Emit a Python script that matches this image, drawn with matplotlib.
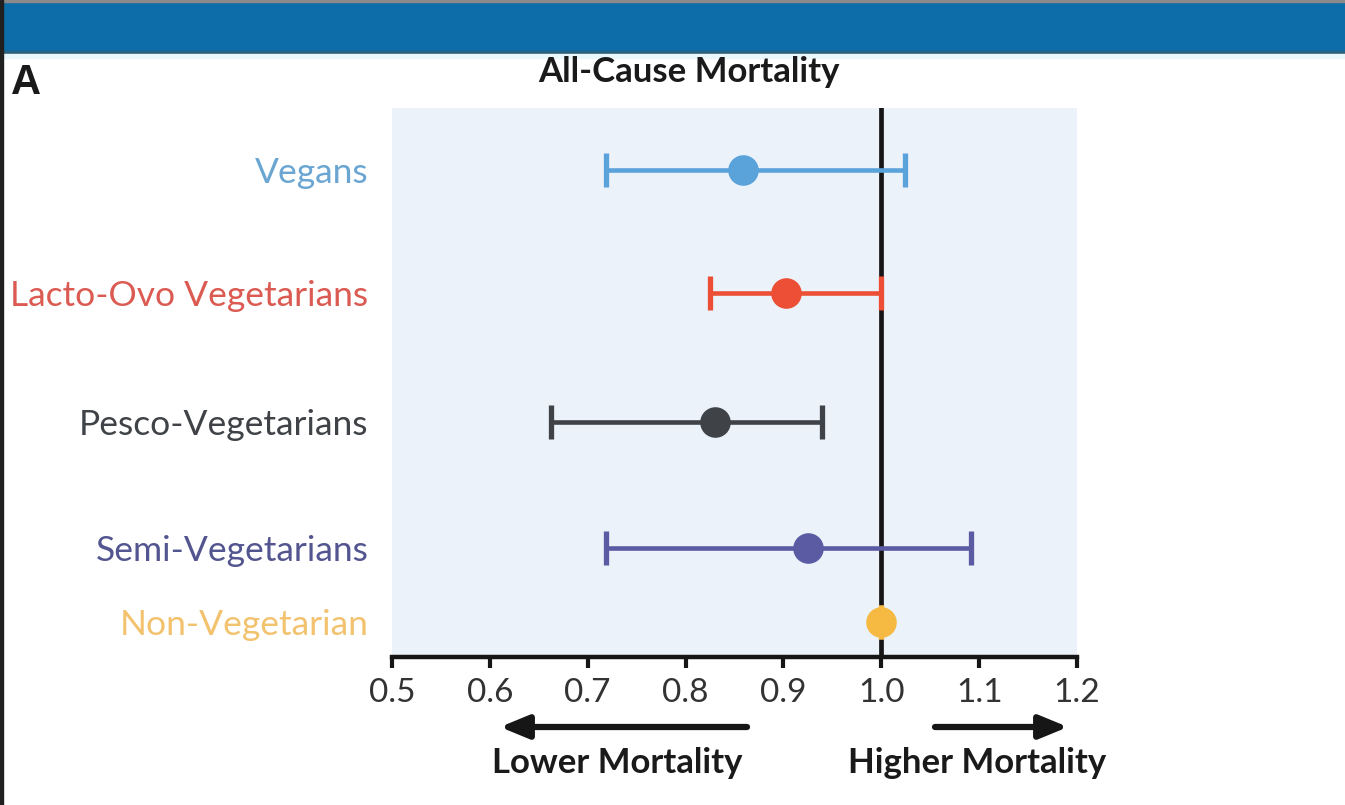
import matplotlib
matplotlib.use("Agg")
import matplotlib.pyplot as plt
from matplotlib.patches import Rectangle

# ---- data ----
groups = ["Vegans", "Lacto-Ovo Vegetarians", "Pesco-Vegetarians",
          "Semi-Vegetarians", "Non-Vegetarian"]
hr = [0.859, 0.903, 0.830, 0.925, 1.00]
ci_low = [0.719, 0.825, 0.662, 0.719, 1.00]
ci_high = [1.024, 1.000, 0.939, 1.092, 1.00]
xticks = [0.5, 0.6, 0.7, 0.8, 0.9, 1.0, 1.1, 1.2]
xtick_labels = ["0.5", "0.6", "0.7", "0.8", "0.9", "1.0", "1.1", "1.2"]

# ---- style ----
point_colors = ["#5AA2DA", "#EC4F35", "#3F4246", "#5A5BA3", "#F6B942"]
label_colors = ["#6BA6D3", "#DB5A52", "#3F4246", "#52558F", "#F2C26E"]
row_y = [4.0, 3.02, 2.0, 1.0, 0.41]

W, H = 1345, 805
fig = plt.figure(figsize=(W / 100, H / 100), dpi=100)
fig.patch.set_facecolor("white")

# header bar & border
fig.patches.append(Rectangle((0, 1 - 51 / H), 1, 51 / H, transform=fig.transFigure,
                             color="#0C6DA8", zorder=0))
fig.patches.append(Rectangle((0, 1 - 54 / H), 1, 3 / H, transform=fig.transFigure,
                             color="#2A627F", zorder=0))
fig.patches.append(Rectangle((0, 1 - 58 / H), 1, 4 / H, transform=fig.transFigure,
                             color="#EAF8FC", zorder=0))
fig.patches.append(Rectangle((0, 1 - 2 / H), 1, 2 / H, transform=fig.transFigure,
                             color="#8A8A8A", zorder=1))
fig.patches.append(Rectangle((0, 0), 3 / W, 1, transform=fig.transFigure,
                             color="#202020", zorder=1))

ax = fig.add_axes([392 / W, 1 - 657 / H, (1077 - 392) / W, (657 - 108) / H])
ax.set_facecolor("#EBF2FA")
ax.set_xlim(0.5, 1.2)
ax.set_ylim(0.135, 4.49)

ax.axvline(1.0, color="#161616", lw=3.4, zorder=2)

for i, g in enumerate(groups):
    xerr = [[hr[i] - ci_low[i]], [ci_high[i] - hr[i]]]
    ax.errorbar(hr[i], row_y[i], xerr=xerr, fmt="o", color=point_colors[i],
                ecolor=point_colors[i], elinewidth=3.3, capsize=12.5, capthick=3.8,
                markersize=21, markeredgecolor=point_colors[i], zorder=3)

ax.set_yticks(row_y)
ax.set_yticklabels(groups, fontsize=25.5, family="Lato")
for t, c in zip(ax.get_yticklabels(), label_colors):
    t.set_color(c)
ax.tick_params(axis="y", length=0, pad=17)

ax.set_xticks(xticks)
ax.set_xticklabels(xtick_labels, fontsize=24, family="Lato", color="#333333")
ax.tick_params(axis="x", direction="out", length=8, width=3.0, color="#161616", pad=7)

for s in ["left", "top", "right"]:
    ax.spines[s].set_visible(False)
ax.spines["bottom"].set_linewidth(3.2)
ax.spines["bottom"].set_color("#161616")

# title and panel letter
fig.text(689 / W, 1 - 72 / H, "All-Cause Mortality", ha="center", va="center",
         fontsize=25, fontweight="bold", family="Lato", color="#1A1A1A")
fig.text(11 / W, 1 - 83 / H, "A", ha="left", va="center", fontsize=30,
         fontweight="bold", family="Liberation Sans", color="#1A1A1A")

# direction arrows
arrow_kw = dict(arrowstyle="-|>,head_length=1.7,head_width=0.7", lw=4.5, color="#161616",
                shrinkA=0, shrinkB=0)
ax.annotate("", xy=(500 / W, 1 - 727 / H), xytext=(747 / W, 1 - 727 / H),
            xycoords="figure fraction", textcoords="figure fraction",
            arrowprops=arrow_kw, annotation_clip=False)
ax.annotate("", xy=(1068 / W, 1 - 727 / H), xytext=(935 / W, 1 - 727 / H),
            xycoords="figure fraction", textcoords="figure fraction",
            arrowprops=arrow_kw, annotation_clip=False)
fig.text(617 / W, 1 - 763 / H, "Lower Mortality", ha="center", va="center",
         fontsize=25, fontweight="bold", family="Lato", color="#1A1A1A")
fig.text(977 / W, 1 - 763 / H, "Higher Mortality", ha="center", va="center",
         fontsize=25, fontweight="bold", family="Lato", color="#1A1A1A")

fig.savefig("out.png", dpi=100, facecolor="white")
